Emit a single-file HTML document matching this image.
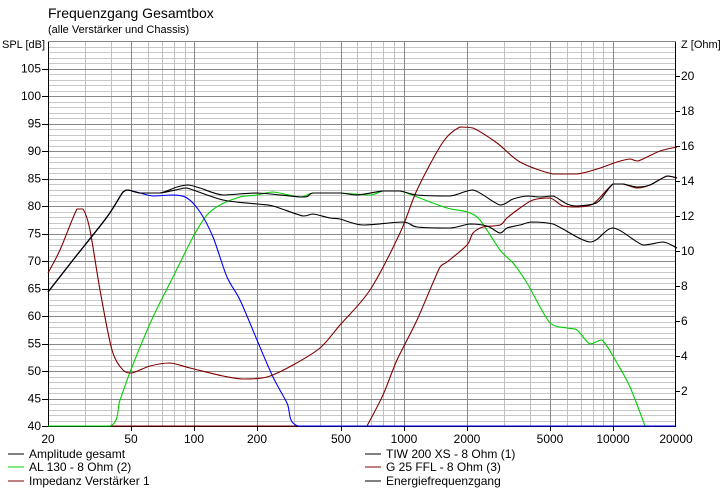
<!DOCTYPE html>
<html><head><meta charset="utf-8"><style>
html,body{margin:0;padding:0;background:#fff;}
svg{display:block;font-family:"Liberation Sans",sans-serif;}
</style></head><body>
<svg id="s" width="724" height="491" viewBox="0 0 724 491" xmlns="http://www.w3.org/2000/svg">
<rect width="724" height="491" fill="#fff"/>
<g id="grid"></g>
<text x="48" y="18" font-size="14" fill="#000">Frequenzgang Gesamtbox</text>
<text x="48" y="33" font-size="11" fill="#000">(alle Verstärker und Chassis)</text>
<text x="2" y="48" font-size="11">SPL [dB]</text>
<text x="681" y="48" font-size="11">Z [Ohm]</text>
<g font-size="12" text-anchor="end">
<text x="41" y="72.5">105</text><text x="41" y="100">100</text><text x="41" y="127.5">95</text><text x="41" y="155">90</text><text x="41" y="182.5">85</text><text x="41" y="210">80</text><text x="41" y="237.5">75</text><text x="41" y="265">70</text><text x="41" y="292.5">65</text><text x="41" y="320">60</text><text x="41" y="347.5">55</text><text x="41" y="375">50</text><text x="41" y="402.5">45</text><text x="41" y="430">40</text>
</g>
<g font-size="12">
<text x="681" y="80">20</text><text x="681" y="115">18</text><text x="681" y="150">16</text><text x="681" y="185">14</text><text x="681" y="220">12</text><text x="681" y="255">10</text><text x="681" y="290">8</text><text x="681" y="325">6</text><text x="681" y="360">4</text><text x="681" y="395">2</text>
</g>
<g font-size="12" text-anchor="middle">
<text x="48" y="443">20</text><text x="131" y="443">50</text><text x="194" y="443">100</text><text x="257" y="443">200</text><text x="341" y="443">500</text><text x="404" y="443">1000</text><text x="467" y="443">2000</text><text x="550" y="443">5000</text><text x="613" y="443">10000</text><text x="676" y="443">20000</text>
</g>
<g id="curves" fill="none" stroke-width="1.1" stroke-linejoin="round">
<polyline stroke="#800000" points="48,426 367,426"/>
<polyline stroke="#00d000" points="48,426 110,426 120,400 132,367 153,317 173,277 193,237 207,215 220,205 240,197 257,195 273,192 300,197 313,193 340,193 370,195 383,191 400,191 417,197 447,208 467,212 480,220 500,250 513,263 527,283 550,323 567,328 577,330 590,344 602,340 617,363 630,387 645,426"/>
<polyline stroke="#0000ff" points="48,292 73,260 107,217 123,192 128,190 140,193 153,196 173,195 187,198 200,212 213,237 227,277 240,300 257,340 273,377 287,403 298,426 676,426"/>
<polyline stroke="#800000" points="48,273 60,250 77,209 83,209 90,230 100,290 112,350 123,370 132,373 150,366 170,363 190,368 223,376 243,379 267,377 293,365 320,348 340,325 370,290 400,233 417,190 443,142 460,127 473,128 497,143 520,162 553,174 577,174 597,169 617,162 630,159 638,161 660,151 677,147"/>
<polyline stroke="#800000" points="367,426 383,395 397,360 417,320 440,267 447,262 467,245 473,233 483,227 500,225 507,218 520,208 533,200 550,198 563,206 577,207 593,204 613,184 623,184 637,188 650,185 667,176 677,178"/>
<polyline stroke="#000" points="48,292 73,260 107,217 123,192 128,190 140,193 160,193 180,189 187,188 223,200 257,204 273,206 303,216 313,214 330,218 340,219 363,225 403,222 417,227 450,228 470,224 487,226 500,233 507,228 520,225 532,222 553,224 590,242 613,228 643,245 663,242 677,248"/>
<polyline stroke="#000" points="48,292 73,260 107,217 123,192 128,190 140,193 160,193 177,187 188,185 200,188 223,195 257,193 303,197 313,193 340,193 357,195 383,191 400,191 417,195 450,196 473,190 500,205 513,199 527,196 540,197 553,196 567,204 577,206 593,204 600,200 613,184 623,184 637,187 650,185 667,176 677,178"/>
</g>
<g font-size="12">
<line x1="8" y1="454" x2="24" y2="454" stroke="#000"/><text x="29" y="458">Amplitude gesamt</text>
<line x1="8" y1="467" x2="24" y2="467" stroke="#00d000"/><text x="29" y="471">AL 130 - 8 Ohm (2)</text>
<line x1="8" y1="481" x2="24" y2="481" stroke="#800000"/><text x="29" y="485">Impedanz Verstärker 1</text>
<line x1="365" y1="454" x2="381" y2="454" stroke="#000"/><text x="386" y="458">TIW 200 XS - 8 Ohm (1)</text>
<line x1="365" y1="467" x2="381" y2="467" stroke="#800000"/><text x="386" y="471">G 25 FFL - 8 Ohm (3)</text>
<line x1="365" y1="481" x2="381" y2="481" stroke="#000"/><text x="386" y="485">Energiefrequenzgang</text>
</g>
</svg>
<script>
(function(){
var g=document.getElementById('grid'),ns='http://www.w3.org/2000/svg';
function L(x1,y1,x2,y2,c){var l=document.createElementNS(ns,'line');l.setAttribute('x1',x1);l.setAttribute('y1',y1);l.setAttribute('x2',x2);l.setAttribute('y2',y2);l.setAttribute('stroke',c);l.setAttribute('stroke-width','1');l.setAttribute('shape-rendering','crispEdges');g.appendChild(l);}
function X(f){return 48+209.33*Math.log10(f/20);}
for(var k=1;k<70;k++){if(k%5)L(48,Math.round(426-5.5*k)+.5,676,Math.round(426-5.5*k)+.5,'#c8c8c8');}
var minors=[30,40,60,70,80,90,300,400,600,700,800,900,3000,4000,6000,7000,8000,9000];
minors.forEach(function(f){var x=Math.round(X(f))+.5;L(x,41,x,426,'#c0c0c0');});
for(var k=5;k<70;k+=5){var y=Math.round(426-5.5*k)+.5;L(48,y,676,y,'#888');L(42,y,48,y,'#000');}
[50,100,200,500,1000,2000,5000,10000].forEach(function(f){var x=Math.round(X(f))+.5;L(x,41,x,426,'#888');L(x,426,x,431,'#000');});
for(var z=2;z<=20;z+=2){var y=Math.round(426-17.5*z)+.5;L(676,y,680,y,'#000');}
L(48.5,41,48.5,426,'#000');L(675.5,41,675.5,426,'#000');L(48,41.5,676,41.5,'#888');L(48,426.5,676,426.5,'#000');L(42,426.5,48,426.5,'#000');
function cl(v,a,b){var lo=Math.min(a,b),hi=Math.max(a,b);return v<lo?lo:(v>hi?hi:v);}
var pls=document.querySelectorAll('#curves polyline');
pls.forEach(function(pl){
 var pts=pl.getAttribute('points').trim().split(/\s+/).map(function(s){return s.split(',').map(Number);});
 if(pts.length<3)return;
 var d='M'+pts[0][0]+','+pts[0][1];
 for(var i=0;i<pts.length-1;i++){
  var p0=pts[i-1]||pts[i],p1=pts[i],p2=pts[i+1],p3=pts[i+2]||p2;
  var t=0.3;
  var c1x=cl(p1[0]+(p2[0]-p0[0])*t/2,p1[0],p2[0]), c1y=cl(p1[1]+(p2[1]-p0[1])*t/2,p1[1],p2[1]);
  var c2x=cl(p2[0]-(p3[0]-p1[0])*t/2,p1[0],p2[0]), c2y=cl(p2[1]-(p3[1]-p1[1])*t/2,p1[1],p2[1]);
  d+=' C'+c1x.toFixed(1)+','+c1y.toFixed(1)+' '+c2x.toFixed(1)+','+c2y.toFixed(1)+' '+p2[0]+','+p2[1];
 }
 var p=document.createElementNS(ns,'path');p.setAttribute('d',d);p.setAttribute('stroke',pl.getAttribute('stroke'));
 pl.parentNode.replaceChild(p,pl);
});
})();
</script>
</body></html>
